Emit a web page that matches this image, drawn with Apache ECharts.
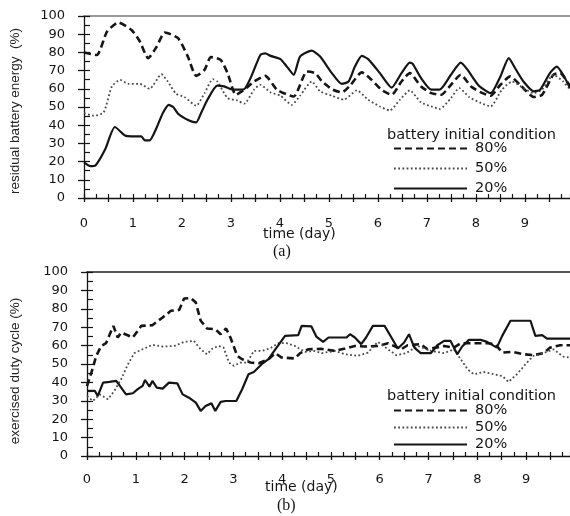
<!DOCTYPE html>
<html>
<head>
<meta charset="utf-8">
<script src="https://cdn.jsdelivr.net/npm/echarts@6/dist/echarts.min.js"></script>
<style>
html, body { margin: 0; padding: 0; background: #fff; }
#chart { width: 570px; height: 516px; }
</style>
</head>
<body>
<div id="chart"></div>
<script>
// [time (day), value (%)]
// (a) residual battery energy
const energy80 = [[0,80],[0.26,78.6],[0.47,91.4],[0.7,96.4],[0.97,92.3],[1.14,86],[1.31,76.8],[1.48,83],[1.65,90.9],[1.92,87.8],[2.12,77.7],[2.29,67.1],[2.46,70.4],[2.59,77.4],[2.79,75.9],[2.93,68.6],[3.1,56.7],[3.27,59.5],[3.47,64],[3.7,67.1],[3.94,59.5],[4.28,55.8],[4.55,69.5],[4.72,68.6],[4.86,64],[5.06,59.8],[5.26,58],[5.43,61.7],[5.67,69],[5.87,64.9],[6.07,59.5],[6.28,56.7],[6.48,64],[6.65,68.6],[6.88,61.3],[7.09,57.6],[7.29,56.7],[7.49,62.2],[7.69,67.7],[7.9,61.3],[8.1,58],[8.3,56.2],[8.5,62.2],[8.7,66.8],[8.9,62.2],[9.18,55.5],[9.35,56.7],[9.58,67.7],[9.72,68.6],[9.92,61.3]];
const energy50 = [[0,46.7],[0.2,45.2],[0.4,47],[0.57,61.3],[0.74,64.9],[0.9,62.7],[1.14,62.7],[1.34,60],[1.58,68],[1.71,64],[1.88,57.3],[2.05,55.5],[2.29,50.7],[2.46,57.6],[2.63,65.3],[2.72,64],[2.93,54.9],[3.13,53.6],[3.27,51.8],[3.47,59.5],[3.6,62.2],[3.81,58],[4.01,56.2],[4.24,51.2],[4.41,56.2],[4.65,64],[4.82,58.6],[5.06,56.2],[5.3,54],[5.57,59.1],[5.8,54],[6.04,50.3],[6.24,48.1],[6.45,54],[6.65,59.1],[6.88,52.5],[7.09,50.3],[7.26,48.9],[7.49,54.9],[7.66,60.4],[7.86,55.5],[8.1,52.2],[8.3,50.3],[8.53,59.5],[8.74,64],[8.97,60.4],[9.18,57.6],[9.35,59.5],[9.58,67.7],[9.78,64],[9.92,59.5]];
const energy20 = [[0,19.6],[0.13,17.5],[0.23,17.8],[0.43,26.6],[0.63,39],[0.84,34.3],[0.97,33.9],[1.17,33.9],[1.24,31.7],[1.34,31.7],[1.48,38.5],[1.61,46.7],[1.73,51.2],[1.82,50],[1.92,46.3],[2.05,43.9],[2.19,42.1],[2.29,41.6],[2.39,46.7],[2.52,54],[2.72,61.7],[2.86,61.3],[3.0,59.8],[3.13,59.5],[3.27,59.8],[3.4,65.9],[3.6,78.6],[3.7,79.5],[3.81,78.1],[4.01,76.3],[4.14,72.2],[4.28,67.7],[4.41,77.7],[4.65,81],[4.82,77.7],[5.06,68.6],[5.26,62.7],[5.4,64],[5.53,72.2],[5.67,78.1],[5.8,76.3],[6.04,68.6],[6.28,60.7],[6.48,68.6],[6.65,74.4],[6.71,73.7],[6.88,65.9],[7.09,59.5],[7.26,59.5],[7.49,67.7],[7.69,74.4],[7.83,70.4],[8.06,61.7],[8.3,57.6],[8.5,66.8],[8.67,76.8],[8.8,71.3],[8.97,64],[9.18,58.6],[9.31,59.5],[9.51,68.6],[9.65,72.2],[9.78,67.7],[9.92,60.4]];

// (b) exercised duty cycle
const duty80 = [[0,38],[0.09,45.3],[0.19,54.4],[0.29,59.8],[0.39,61.3],[0.54,70.7],[0.63,64.4],[0.7,67.1],[0.94,64.4],[1.11,70.7],[1.34,71.1],[1.55,75.3],[1.72,78.9],[1.89,79.4],[1.99,85.6],[2.13,85.8],[2.23,83.4],[2.33,73.5],[2.46,69.3],[2.63,68.9],[2.74,66.2],[2.85,69.3],[2.94,64.4],[3.08,54.4],[3.18,52.6],[3.35,50.8],[3.52,50.4],[3.72,52.6],[3.86,55.9],[3.99,53.5],[4.26,53],[4.37,55.9],[4.54,58],[4.81,58.2],[5.08,57.1],[5.29,58.4],[5.49,59.8],[5.69,59.5],[5.96,59.8],[6.17,61.3],[6.44,58],[6.57,60.2],[6.84,60.8],[6.98,58],[7.15,58.9],[7.32,59.8],[7.52,58.9],[7.66,61.3],[8.2,61.3],[8.37,60.8],[8.51,56.2],[8.71,56.6],[8.95,55.3],[9.15,54.8],[9.36,55.9],[9.49,58.9],[9.7,60.2],[9.9,60.2]];
const duty50 = [[0,32.6],[0.12,29.9],[0.26,33.5],[0.43,30.8],[0.56,35.4],[0.7,41.7],[0.84,49.9],[0.97,55.9],[1.14,58],[1.34,60.4],[1.55,59.5],[1.79,59.8],[1.99,62],[2.19,62.6],[2.33,58],[2.46,55.3],[2.57,58.4],[2.7,59.8],[2.8,58.9],[2.91,50.8],[3.01,49],[3.14,50.8],[3.28,50.8],[3.42,57.1],[3.58,57.1],[3.75,58.4],[3.92,61.3],[4.09,61.3],[4.26,59.8],[4.47,56.6],[4.67,57.1],[4.81,55.9],[5.08,57.1],[5.29,55.3],[5.55,54.4],[5.76,56.2],[5.96,62],[6.17,58],[6.34,54.8],[6.54,55.9],[6.78,59.8],[7.05,57.1],[7.32,55.9],[7.52,58],[7.66,52.6],[7.8,47.1],[7.93,44.4],[8.13,45.7],[8.34,44.4],[8.51,43.5],[8.64,40.3],[8.81,44.4],[9.02,50.8],[9.15,54.4],[9.36,55.9],[9.56,58],[9.76,54],[9.9,53.5]];
const duty20 = [[0,35.4],[0.16,35.4],[0.22,32.6],[0.33,39.9],[0.46,40.3],[0.6,40.8],[0.7,37.2],[0.8,33.5],[0.94,34.1],[1.04,36.3],[1.14,38.1],[1.19,41.3],[1.28,37.7],[1.34,40.8],[1.43,37.2],[1.55,36.6],[1.68,39.9],[1.85,39.5],[1.96,33.5],[2.09,31.7],[2.23,29],[2.33,24.5],[2.43,27.2],[2.55,28.6],[2.63,24.5],[2.74,29.4],[2.84,29.9],[3.06,29.9],[3.18,36.3],[3.31,44.4],[3.42,45.7],[3.58,49.9],[3.72,52.6],[3.86,58],[4.06,65.3],[4.33,65.7],[4.4,70.7],[4.6,70.4],[4.7,64.9],[4.84,62],[4.95,64.4],[5.32,64.4],[5.39,66.2],[5.49,64.4],[5.62,60.8],[5.72,64.4],[5.86,70.7],[6.1,70.7],[6.24,64.4],[6.37,58.4],[6.5,61.7],[6.6,66.2],[6.71,58.9],[6.84,55.9],[7.05,55.9],[7.18,60.2],[7.32,62.6],[7.45,62.6],[7.52,58.9],[7.59,55.3],[7.69,59.5],[7.83,63.1],[8.07,63.1],[8.2,62],[8.4,58.9],[8.51,65.3],[8.68,73.5],[9.09,73.5],[9.19,65.3],[9.33,65.7],[9.43,63.8],[9.9,63.8]];

const legendNames = ['80%', '50%', '20%'];
const legendTitle = 'battery initial condition';
const xName = 'time (day)';
const yNames = ['residual battery energy  (%)', 'exercised duty cycle (%)'];
const panelLabels = ['(a)', '(b)'];

const sans = 'DejaVu Sans';
const ink = '#151515';

const dayLabel = v => Math.abs(v - Math.round(v)) < 1e-6 ? String(Math.round(v)) : '';

// three x axes per grid: labelled bottom axis, quarter-day inner ticks, top frame line
function xAxesFor(grid, max, margin, topColor) {
    return [
        {
            type: 'value', gridIndex: grid, position: 'bottom', min: 0, max: max, interval: 0.5,
            axisLine: { lineStyle: { color: ink, width: 1.3 } },
            axisTick: { length: 4, lineStyle: { color: ink, width: 1.3 } },
            axisLabel: { formatter: dayLabel, margin: margin, showMaxLabel: false,
                fontFamily: sans, fontSize: 13, color: ink },
            splitLine: { show: false }
        },
        {
            type: 'value', gridIndex: grid, position: 'bottom', offset: 0, min: 0, max: max, interval: 0.25,
            axisLine: { show: false },
            axisTick: { inside: true, length: 4, lineStyle: { color: ink, width: 1.2 } },
            axisLabel: { show: false },
            splitLine: { show: false }
        },
        {
            type: 'value', gridIndex: grid, position: 'top', min: 0, max: max,
            axisLine: { lineStyle: { color: topColor, width: 1.5 } },
            axisTick: { show: false },
            axisLabel: { show: false },
            splitLine: { show: false }
        }
    ];
}

function yAxesFor(grid, name, gap, namePad) {
    return [
        {
            type: 'value', gridIndex: grid, position: 'left', min: 0, max: 100, interval: 10,
            name: name, nameLocation: 'middle', nameGap: gap,
            nameTextStyle: { fontFamily: 'Liberation Sans', fontSize: 13.5, color: '#222', padding: namePad },
            axisLine: { lineStyle: { color: ink, width: 1.3 } },
            axisTick: { length: 6, lineStyle: { color: ink, width: 1.3 } },
            axisLabel: { margin: 19, fontFamily: sans, fontSize: 13, color: ink },
            splitLine: { show: false }
        },
        {
            type: 'value', gridIndex: grid, position: 'left', offset: 0, min: 0, max: 100, interval: 5,
            axisLine: { show: false },
            axisTick: { inside: true, length: 6, lineStyle: { color: ink, width: 1.2 } },
            axisLabel: { show: false },
            splitLine: { show: false }
        }
    ];
}

const styles = {
    '80%': { color: ink, width: 2.6, type: [7, 4] },
    '50%': { color: '#4a4a4a', width: 1.8, type: [1.8, 2.4] },
    '20%': { color: ink, width: 2.2, type: 'solid' }
};

function line(name, data, xIdx, yIdx, smooth) {
    return {
        name: name, type: 'line', data: data, xAxisIndex: xIdx, yAxisIndex: yIdx,
        symbol: 'none', smooth: smooth, lineStyle: styles[name],
        itemStyle: { color: styles[name].color }
    };
}

function legendAt(top, gap) {
    return {
        orient: 'vertical', left: 393, top: top, padding: 0,
        itemWidth: 73, itemHeight: 14, itemGap: gap, selectedMode: false,
        data: legendNames,
        itemStyle: { opacity: 0 },
        textStyle: { fontFamily: sans, fontSize: 14.5, color: ink, padding: [4, 0, 0, 3] }
    };
}

const textStyle = { fontFamily: sans, fontSize: 14.5, fontWeight: 'normal', color: ink };
const serif = { fontFamily: 'Liberation Serif', fontSize: 16, fontWeight: 'normal', color: ink };

const option = {
    animation: false,
    title: [
        { text: legendTitle, left: 387, top: 128, padding: 0, textStyle: textStyle },
        { text: legendTitle, left: 387, top: 389, padding: 0, textStyle: textStyle },
        { text: xName, left: 263, top: 227, padding: 0, textStyle: Object.assign({}, textStyle, { fontSize: 14 }) },
        { text: xName, left: 265, top: 480, padding: 0, textStyle: Object.assign({}, textStyle, { fontSize: 14 }) },
        { text: panelLabels[0], left: 273, top: 244, padding: 0, textStyle: serif },
        { text: panelLabels[1], left: 277, top: 498, padding: 0, textStyle: serif }
    ],
    legend: [legendAt(141, 5), legendAt(403, 2)],
    grid: [
        { left: 80, top: 16, right: 0, bottom: 318 },
        { left: 84, top: 272, right: 0, bottom: 60 }
    ],
    xAxis: xAxesFor(0, 9.92, 19, '#7a7a7a').concat(xAxesFor(1, 9.9, 17, '#222')),
    yAxis: yAxesFor(0, yNames[0], 62, [0, 8, 0, 0]).concat(yAxesFor(1, yNames[1], 65, [0, 14, 0, 0])),
    series: [
        line('80%', energy80, 0, 0, 0.2),
        line('50%', energy50, 0, 0, 0.2),
        line('20%', energy20, 0, 0, 0.2),
        line('80%', duty80, 3, 2, false),
        line('50%', duty50, 3, 2, false),
        line('20%', duty20, 3, 2, false)
    ]
};

echarts.init(document.getElementById('chart')).setOption(option);
</script>
</body>
</html>
